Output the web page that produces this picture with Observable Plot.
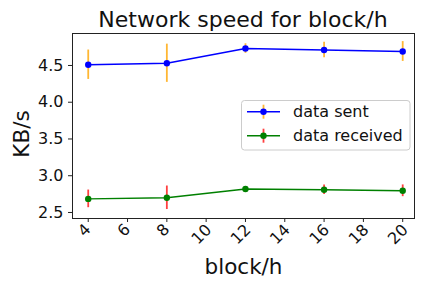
<!DOCTYPE html>
<html>
<head>
<meta charset="utf-8">
<script src="https://cdn.jsdelivr.net/npm/d3@7"></script>
<script src="https://cdn.jsdelivr.net/npm/@observablehq/plot@0.6"></script>
<style>
  html, body { margin: 0; padding: 0; background: #fff; }
</style>
</head>
<body>
<div id="chart"></div>
<script>
// ---- data ----
const blocks = [4, 8, 12, 16, 20];
const sentMean = [4.51, 4.53, 4.73, 4.71, 4.69];
const sentErr = [0.20, 0.26, 0.065, 0.105, 0.135];
const recvMean = [2.685, 2.70, 2.82, 2.81, 2.795];
const recvErr = [0.12, 0.16, 0.02, 0.065, 0.08];
const xTicks = [4, 6, 8, 10, 12, 14, 16, 18, 20];
const yTicks = [2.5, 3.0, 3.5, 4.0, 4.5];
const seriesNames = ["data sent", "data received"];
const titleText = "Network speed for block/h";
const xLabel = "block/h";
const yLabel = "KB/s";

const sent = blocks.map((b, i) => ({x: b, y: sentMean[i], e: sentErr[i]}));
const recv = blocks.map((b, i) => ({x: b, y: recvMean[i], e: recvErr[i]}));

const font = "DejaVu Sans";
const svg = Plot.plot({
  width: 432,
  height: 288,
  marginLeft: 72,
  marginRight: 18,
  marginTop: 33,
  marginBottom: 70,
  style: {fontFamily: font, fontSize: "16px", background: "white", color: "#111"},
  x: {domain: [3.2, 20.6]},
  y: {domain: [2.418, 4.935]},
  marks: [
    Plot.axisY({ticks: yTicks, tickFormat: d3.format(".1f"), tickSize: 4, tickPadding: 5, label: null, stroke: "#222"}),
    Plot.axisX({ticks: xTicks, tickSize: 4, tickFormat: () => "", label: null, stroke: "#222"}),
    Plot.text(xTicks.filter(d => d < 10), {x: d => d, text: d => String(d), frameAnchor: "bottom", dy: 15.5, rotate: -45, fill: "#111"}),
    Plot.text(xTicks.filter(d => d >= 10), {x: d => d, text: d => String(d), frameAnchor: "bottom", dy: 19.5, dx: -1, rotate: -45, fill: "#111"}),
    Plot.ruleX(sent, {x: "x", y1: d => d.y - d.e, y2: d => d.y + d.e, stroke: "orange", strokeOpacity: 0.8, strokeWidth: 1.8}),
    Plot.ruleX(recv, {x: "x", y1: d => d.y - d.e, y2: d => d.y + d.e, stroke: "red", strokeOpacity: 0.75, strokeWidth: 1.8}),
    Plot.line(sent, {x: "x", y: "y", stroke: "blue", strokeWidth: 1.5}),
    Plot.line(recv, {x: "x", y: "y", stroke: "green", strokeWidth: 1.5}),
    Plot.dot(sent, {x: "x", y: "y", r: 3.2, fill: "blue"}),
    Plot.dot(recv, {x: "x", y: "y", r: 3.2, fill: "green"}),
    Plot.frame({stroke: "#222", strokeWidth: 1})
  ]
});

const s = d3.select(svg);
const addText = (sel) => sel.attr("fill", "#111").style("font-family", font);
addText(s.append("text")).attr("x", 243).attr("y", 26.5).attr("text-anchor", "middle")
  .style("font-size", "22px").text(titleText);
addText(s.append("text")).attr("x", 243.5).attr("y", 274).attr("text-anchor", "middle")
  .style("font-size", "21.5px").text(xLabel);
addText(s.append("text")).attr("transform", "translate(28.5,134) rotate(-90)").attr("text-anchor", "middle")
  .style("font-size", "21.5px").text(yLabel);

// legend
const lg = s.append("g");
lg.append("rect").attr("x", 241.5).attr("y", 100.5).attr("width", 168.5).attr("height", 49.5)
  .attr("rx", 3).attr("fill", "white").attr("fill-opacity", 0.8).attr("stroke", "#ccc");
const entries = [
  {name: seriesNames[0], color: "blue", err: "orange", eo: 0.8, y: 111.7},
  {name: seriesNames[1], color: "green", err: "red", eo: 0.75, y: 135.7}
];
entries.forEach(e => {
  lg.append("line").attr("x1", 263.5).attr("x2", 263.5).attr("y1", e.y - 7).attr("y2", e.y + 7)
    .attr("stroke", e.err).attr("stroke-opacity", e.eo).attr("stroke-width", 1.8);
  lg.append("line").attr("x1", 247).attr("x2", 280).attr("y1", e.y).attr("y2", e.y)
    .attr("stroke", e.color).attr("stroke-width", 1.5);
  lg.append("circle").attr("cx", 263.5).attr("cy", e.y).attr("r", 3.2).attr("fill", e.color);
  addText(lg.append("text")).attr("x", 293).attr("y", e.y).attr("dy", "0.35em")
    .attr("text-anchor", "start").style("font-size", "16px").text(e.name);
});

document.getElementById("chart").appendChild(svg);
</script>
</body>
</html>
